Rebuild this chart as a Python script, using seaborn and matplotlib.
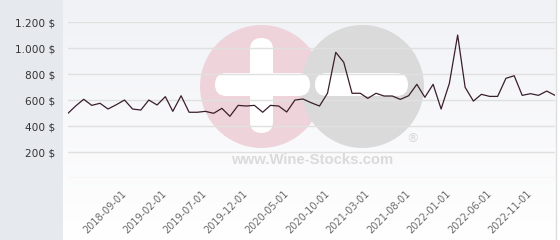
import numpy as np
import pandas as pd
import matplotlib
matplotlib.use("Agg")
import matplotlib.pyplot as plt
import seaborn as sns
from matplotlib.patches import Rectangle, Circle, FancyBboxPatch
from matplotlib.ticker import FuncFormatter
from matplotlib.colors import LinearSegmentedColormap

# ---- data ----
dates = pd.date_range("2018-02-01", "2023-02-01", freq="MS")
prices = [500, 555, 608, 561, 577, 533, 566, 602, 533, 525,
          602, 564, 628, 515, 635, 508, 508, 515, 500, 538,
          477, 561, 556, 561, 508, 561, 556, 510, 602, 610,
          581, 556, 654, 969, 892, 654, 654, 615, 654, 633,
          633, 607, 635, 723, 623, 723, 533, 731, 1102, 700,
          594, 646, 630, 630, 769, 789, 638, 651, 638, 671, 638]
tick_labels = ["2018-09-01", "2019-02-01", "2019-07-01", "2019-12-01", "2020-05-01",
               "2020-10-01", "2021-03-01", "2021-08-01", "2022-01-01", "2022-06-01",
               "2022-11-01"]
y_ticks = [0, 200, 400, 600, 800, 1000, 1200]

df = pd.DataFrame({"date": dates, "price": prices})

sns.set_theme(style="white")
plt.rcParams['font.family'] = ['DejaVu Sans']

W, H = 560, 240
fig = plt.figure(figsize=(W / 100, H / 100), dpi=100)
fig.patch.set_facecolor("white")

# ---- background layer (pixel coords, y down) ----
bg = fig.add_axes([0, 0, 1, 1], zorder=0)
bg.set_xlim(0, W)
bg.set_ylim(H, 0)
bg.axis("off")
cmap = LinearSegmentedColormap.from_list("g", ["#f1f2f6", "#ffffff"])
grad = np.linspace(0, 1, 256).reshape(-1, 1)
bg.imshow(grad, cmap=cmap, extent=(63, 556, H, 0), aspect="auto", zorder=0)
bg.add_patch(Rectangle((0, 0), 63, H, facecolor="#e6eaee", edgecolor="none", zorder=1))
bg.plot([556, 556], [0, H], color="#dedede", lw=1, zorder=1)

# watermark
bg.add_patch(Circle((261.5, 86.5), 61.5, facecolor="#eed4da", edgecolor="none", zorder=2))
bg.add_patch(Circle((362.5, 86.5), 61.5, facecolor="#dadada", edgecolor="none", zorder=3))
bg.add_patch(FancyBboxPatch((250 + 11.5, 38 + 11.5), 0, 95 - 23,
                            boxstyle="round,pad=11.5", facecolor="white",
                            edgecolor="none", zorder=4))
bg.add_patch(FancyBboxPatch((215 + 11.5, 73 + 11.5), 95 - 23, 0,
                            boxstyle="round,pad=11.5", facecolor="white",
                            edgecolor="none", zorder=4))
bg.add_patch(FancyBboxPatch((315 + 11.5, 73 + 11.5), 93 - 23, 0,
                            boxstyle="round,pad=11.5", facecolor="white",
                            edgecolor="none", zorder=4))
bg.text(312, 160, "www.Wine-Stocks.com", fontsize=10.7, fontweight="bold",
        family="Liberation Sans", color="#dadada", ha="center", va="center", zorder=5)
bg.text(413, 139, "®", fontsize=9, family="DejaVu Sans", color="#d6d6d6",
        ha="center", va="center", zorder=5)

# ---- main chart ----
ax = fig.add_axes([68 / W, (H - 178.3) / H, (555 - 68) / W, (178.3 - 22.3) / H], zorder=2)
ax.set_facecolor("none")
sns.lineplot(data=df, x="date", y="price", ax=ax, color="#3a1e2c", lw=0.9)

ax.set_xlim(dates[0], dates[-1])
ax.set_ylim(0, 1200)
ax.set_yticks(y_ticks)
ax.yaxis.set_major_formatter(FuncFormatter(
    lambda v, p: "" if v == 0 else f"{v:,.0f} $".replace(",", ".")))
ax.set_xticks(pd.to_datetime(tick_labels))
ax.set_xticklabels(tick_labels, rotation=45, ha="right", va="center",
                   rotation_mode="anchor", fontsize=7, color="#6a6a6a")
ax.tick_params(axis="y", labelsize=7.6, labelcolor="#333333", length=0, pad=9)
ax.tick_params(axis="x", length=0, pad=10)
ax.grid(axis="y", color="#e0e0e0", lw=1)
ax.grid(axis="x", visible=False)
for s in ax.spines.values():
    s.set_visible(False)
ax.set_xlabel("")
ax.set_ylabel("")

fig.savefig("out.png", dpi=100)
